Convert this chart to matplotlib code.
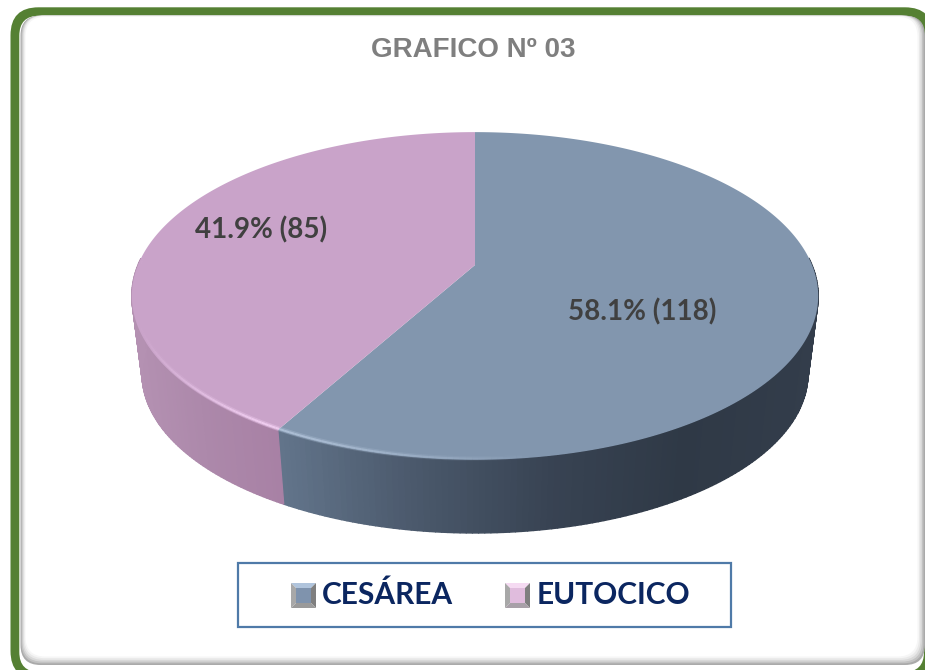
import numpy as np
import matplotlib
matplotlib.use("Agg")
import matplotlib.pyplot as plt
from matplotlib.colors import LinearSegmentedColormap, to_rgba
from matplotlib.patches import FancyBboxPatch, Polygon, Rectangle
from matplotlib.collections import LineCollection, PolyCollection

title = "GRAFICO Nº 03"
categories = ["CESÁREA", "EUTOCICO"]
counts = [118, 85]

top_colors = ["#8296ae", "#c9a3c9"]
rim_colors = ["#b4c6dc", "#f0cdf0"]
side_stops = [
    ["#62748a", "#4a586b", "#384353", "#2f3946", "#333d4b"],
    ["#b491b2", "#ac88aa", "#a881a5"],
]
# centre, top and bottom of the bevelled legend keys
swatch_colors = [("#7f93ad", "#b0c4dc", "#9a9a9a"), ("#e0bcdd", "#f5daf2", "#a8a0a8")]
navy = "#0b2660"

# pie projection, in pixels of the picture
cx, cy = 475, 265
a, b, k = 337, 158, 0.189
low_y, low_scale = 344, 0.97


def project(theta, scale=1.0, y0=cy):
    # theta is clockwise from the top of the disc
    u, v = np.sin(theta), np.cos(theta)
    d = 1 + k * v
    return cx + scale * a * u / d, y0 - scale * b * v / d


def round_box(x0, y0, x1, y1, r, **kw):
    return FancyBboxPatch((x0, y0), x1 - x0, y1 - y0,
                          boxstyle=f"round,pad=0,rounding_size={r}", **kw)


fig = plt.figure(figsize=(9.25, 6.7), dpi=100)
ax = fig.add_axes([0, 0, 1, 1])
ax.set_xlim(0, 925)
ax.set_ylim(670, 0)
ax.axis("off")

# green frame runs off the right and bottom, panel with soft shadow inside it
ax.add_patch(round_box(10.5, 7.3, 933, 679, 28, fc="#558033", ec="none", zorder=2))
ax.add_patch(round_box(19.3, 15.7, 924, 672, 20, fc="white", ec="none", zorder=2))
shades = ["#aaaaaa", "#c2c2c2", "#d8d8d8", "#e9e9e9", "#f6f6f6"]
for i, c in enumerate(shades):
    ax.add_patch(round_box(20.5 + i, 15.7, 925 - i * 1.5, 665 - i * 1.7, 20,
                           fc=c, ec="none", zorder=2))
ax.add_patch(round_box(25.5, 16.8, 917.5, 656.5, 20, fc="white", ec="none", zorder=2))

# wedges: the cut goes clockwise from the top, CESÁREA first
fractions = np.array(counts) / sum(counts)
edges = np.concatenate([[0], np.cumsum(fractions)]) * 2 * np.pi
for i in range(2):
    t = np.linspace(edges[i], edges[i + 1], 240)
    # side wall only where the disc faces the viewer
    ts = t[(t > np.pi / 2 - 0.05) & (t < 3 * np.pi / 2 + 0.05)]
    xa, ya = project(ts)
    xb, yb = project(ts, low_scale, low_y)
    quads = [[(xa[j], ya[j]), (xa[j + 1], ya[j + 1]), (xb[j + 1], yb[j + 1]), (xb[j], yb[j])]
             for j in range(len(ts) - 1)]
    cmap = LinearSegmentedColormap.from_list("side", side_stops[i])
    xm = (xa[:-1] + xa[1:]) / 2
    cols = cmap((xm - xm.min()) / (xm.max() - xm.min()))
    ax.add_collection(PolyCollection(quads, facecolors=cols, edgecolors=cols, lw=1.0, zorder=4))

    xt, yt = project(t)
    ax.add_patch(Polygon(np.column_stack([np.r_[cx, xt], np.r_[cy, yt]]), closed=True,
                         fc=top_colors[i], ec="none", zorder=5))

    # light bevel along the front rim, strongest around the cut
    pts = np.column_stack(project(ts, 0.993))
    segs = np.stack([pts[:-1], pts[1:]], axis=1)
    rgba = np.array([to_rgba(rim_colors[i])] * len(segs))
    if i == 0:
        rgba[:, 3] = np.clip(0.8 * (1 - (xm - 278) / 260), 0, 0.8)
    else:
        rgba[:, 3] = np.clip(1 - np.abs(xm - 265) / 130, 0, 1)
    soft = rgba.copy()
    soft[:, 3] *= 0.4
    ax.add_collection(LineCollection(segs, colors=soft, lw=3.4, zorder=6))
    ax.add_collection(LineCollection(segs, colors=rgba, lw=1.4, zorder=6))

ax.text(473.5, 50, title, ha="center", va="center", fontsize=20, fontweight="bold",
        family="Liberation Sans", color="#7f7f7f", zorder=8)

label_pos = [(642, 312), (261, 230)]
for n, f, (x, y) in zip(counts, fractions, label_pos):
    ax.text(x, y, f"{f * 100:.1f}% ({n})", ha="center", va="center", fontsize=20,
            fontweight="bold", family="Lato", color="#404040", zorder=8)

# legend
ax.add_patch(Rectangle((237.5, 562.5), 493, 64, fc="white", ec="#4f7aa8", lw=1.6, zorder=7))
for name, (mid, hi, lo), xs, xt in zip(categories, swatch_colors, [291, 505], [322, 537]):
    s, y0, e = 25, 583, 5
    corners = [(xs, y0), (xs + s, y0), (xs + s, y0 + s), (xs, y0 + s)]
    inner = [(xs + e, y0 + e), (xs + s - e, y0 + e), (xs + s - e, y0 + s - e), (xs + e, y0 + s - e)]
    for j, c in enumerate([hi, "#7f7f7f", lo, "#a8a8a8"]):
        ax.add_patch(Polygon([corners[j], corners[(j + 1) % 4], inner[(j + 1) % 4], inner[j]],
                             closed=True, fc=c, ec="none", zorder=8))
    ax.add_patch(Polygon(inner, closed=True, fc=mid, ec="none", zorder=8))
    ax.text(xt, y0 + 12, name, ha="left", va="center", fontsize=21.5, fontweight="bold",
            family="Lato", color=navy, zorder=8)

fig.savefig("out.png", dpi=100)
